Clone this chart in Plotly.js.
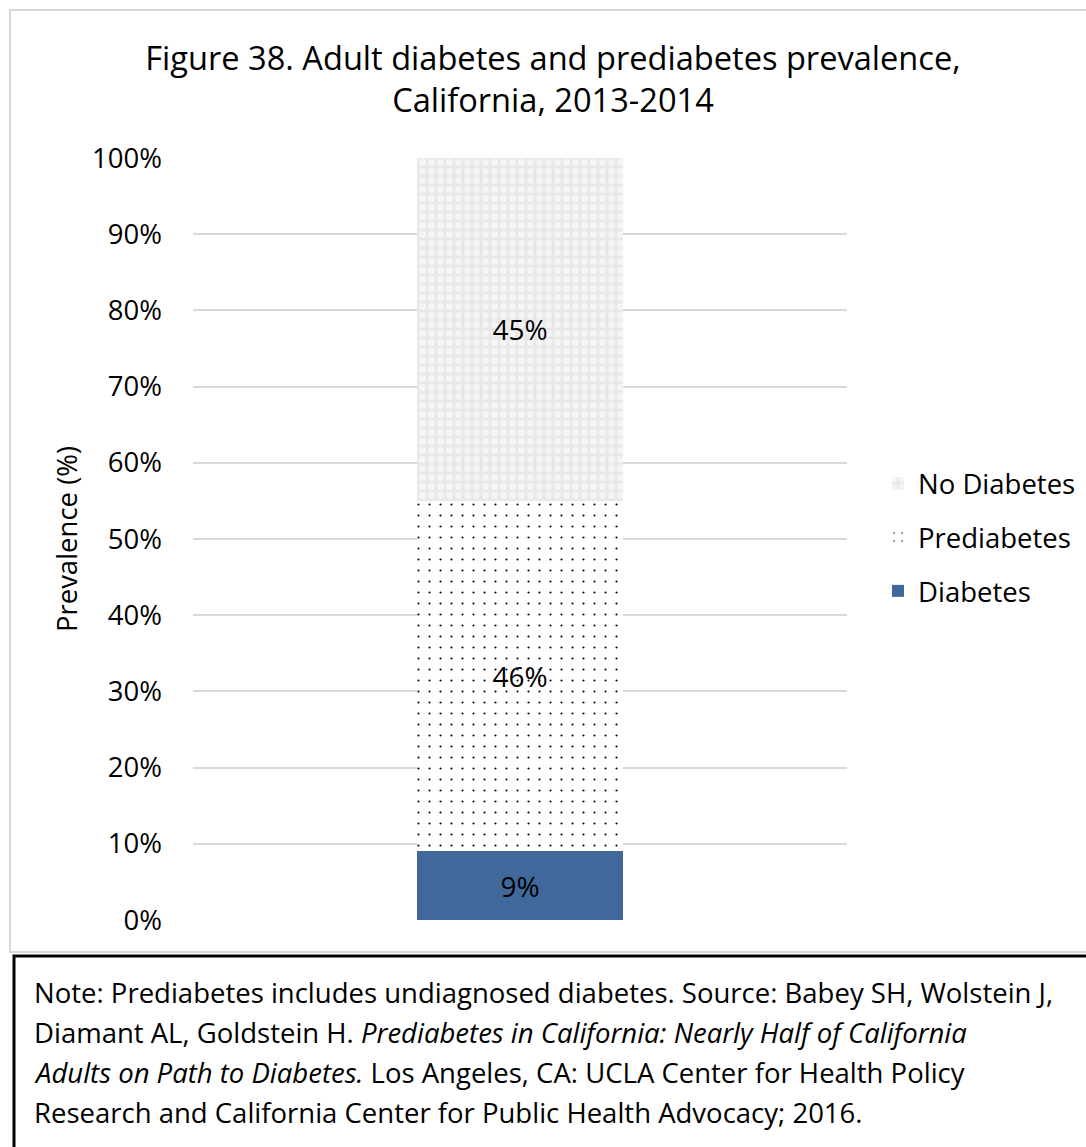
<!DOCTYPE html>
<html>
<head>
<meta charset="utf-8">
<script src="https://cdn.plot.ly/plotly-3.0.1.min.js"></script>
<style>html,body{margin:0;padding:0;background:#fff;}#chart{width:1086px;height:1147px;}</style>
</head>
<body>
<div id="chart"></div>
<script>
// ---- data ----
const categories = ["California 2013-2014"];
const seriesNames = ["Diabetes", "Prediabetes", "No Diabetes"];
const diabetes = [9];
const prediabetes = [46];
const noDiabetes = [45];
const yTickValues = [0, 10, 20, 30, 40, 50, 60, 70, 80, 90, 100];
const yTickLabels = ["0%", "10%", "20%", "30%", "40%", "50%", "60%", "70%", "80%", "90%", "100%"];
const titleText = "Figure 38. Adult diabetes and prediabetes prevalence,<br>California, 2013-2014";
const yTitle = "Prevalence (%)";
const noteLines = [
  "Note: Prediabetes includes undiagnosed diabetes. Source: Babey SH, Wolstein J,",
  "Diamant AL, Goldstein H. <i>Prediabetes in California: Nearly Half of California</i>",
  "<i>Adults on Path to Diabetes.</i> Los Angeles, CA: UCLA Center for Health Policy",
  "Research and California Center for Public Health Advocacy; 2016."
];

// ---- layout helpers (pixel -> paper) ----
const W = 1086, H = 1147;
const L = 193, R = 847, T = 158, B = 920;
const px = x => (x - L) / (R - L);
const py = y => (B - y) / (B - T);
const FONT = "Open Sans, Noto Sans, sans-serif";
const fmt = v => v.map(d => d + "%");

const traces = [
  {
    type: "bar", name: seriesNames[0], x: categories, y: diabetes,
    text: fmt(diabetes), textposition: "inside", insidetextanchor: "middle",
    textfont: {color: "#000", size: 28, family: FONT},
    marker: {color: "#41689b", line: {width: 0}},
    legendgroup: "a", legendrank: 3, hoverinfo: "name+y"
  },
  {
    type: "bar", name: seriesNames[1], x: categories, y: prediabetes,
    text: fmt(prediabetes), textposition: "inside", insidetextanchor: "middle",
    textfont: {color: "#000", size: 28, family: FONT},
    marker: {color: "#ffffff", line: {width: 0},
      pattern: {shape: ".", fgcolor: "#000000", bgcolor: "#ffffff", size: 11, solidity: 0.03, fillmode: "replace"}},
    legendgroup: "b", legendrank: 2, hoverinfo: "name+y"
  },
  {
    type: "bar", name: seriesNames[2], x: categories, y: noDiabetes,
    text: fmt(noDiabetes), textposition: "inside", insidetextanchor: "middle",
    textfont: {color: "#000", size: 28, family: FONT},
    marker: {color: "#ececec", line: {width: 0},
      pattern: {shape: ".", fgcolor: "#f5f5f5", bgcolor: "#e8e8e8", size: 9, solidity: 0.45, fillmode: "replace"}},
    legendgroup: "c", legendrank: 1, hoverinfo: "name+y"
  }
];

const shapes = [
  // outer chart frame (light gray)
  {type: "rect", xref: "paper", yref: "paper", x0: px(10), x1: px(1095), y0: py(952), y1: py(10),
   line: {color: "#d9d9d9", width: 2}, fillcolor: "rgba(0,0,0,0)", layer: "below"},
  // note box (black)
  {type: "rect", xref: "paper", yref: "paper", x0: px(14), x1: px(1100), y0: py(1160), y1: py(956),
   line: {color: "#000000", width: 3}, fillcolor: "rgba(0,0,0,0)", layer: "below"}
];

const noteY = [992, 1032, 1072, 1112];
const annotations = noteLines.map((t, i) => ({
  xref: "paper", yref: "paper", x: px(32), y: py(noteY[i]),
  xanchor: "left", yanchor: "middle", showarrow: false, align: "left",
  text: t, font: {family: FONT, size: 27.5, color: "#000"}
}));

const layout = {
  width: W, height: H,
  paper_bgcolor: "#ffffff", plot_bgcolor: "#ffffff",
  margin: {l: L, r: W - R, t: T, b: H - B, pad: 0, autoexpand: false},
  font: {family: FONT, color: "#000"},
  title: {text: titleText, x: 553 / W, xref: "container", xanchor: "center",
          y: 1 - 70 / H, yref: "container", yanchor: "middle",
          font: {family: FONT, size: 32.6, color: "#000"}},
  barmode: "stack",
  bargap: 0.685,
  showlegend: true,
  legend: {x: px(878), xanchor: "left", y: py(459), yanchor: "top",
           traceorder: "grouped", tracegroupgap: 15,
           font: {family: FONT, size: 27.5, color: "#000"}, bgcolor: "rgba(0,0,0,0)"},
  xaxis: {showticklabels: false, showgrid: false, zeroline: false, showline: false, ticks: "", fixedrange: true},
  yaxis: {range: [0, 100], tickvals: yTickValues, ticktext: yTickLabels,
          tickfont: {family: FONT, size: 27.5, color: "#000"},
          showgrid: true, gridcolor: "#d9d9d9", gridwidth: 2,
          zeroline: false, showline: false, ticks: "", ticklabelstandoff: 30,
          title: {text: yTitle, font: {family: FONT, size: 27.5, color: "#000"}, standoff: 6},
          fixedrange: true},
  shapes: shapes,
  annotations: annotations
};

Plotly.newPlot("chart", traces, layout, {displayModeBar: false, staticPlot: true});
</script>
</body>
</html>
